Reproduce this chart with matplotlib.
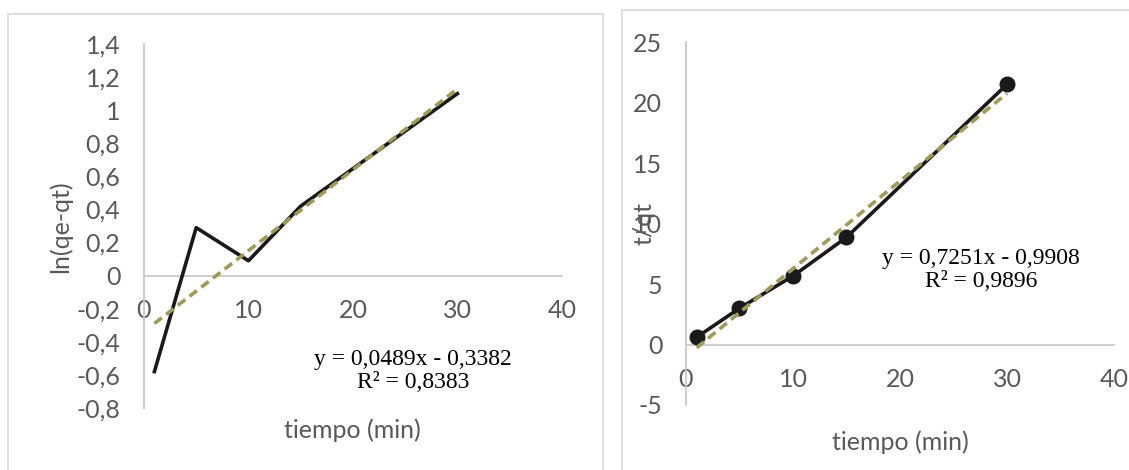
import numpy as np
from matplotlib import pyplot as plt
from matplotlib.patches import Rectangle
from matplotlib.ticker import FuncFormatter, MultipleLocator

# datos
tiempo = [1, 5, 10, 15, 30]
ln_qe_qt = [-0.58, 0.29, 0.09, 0.42, 1.10]
t_qt = [0.6, 3.0, 5.66, 8.86, 21.5]

pend_1, inter_1 = 0.0489, -0.3382
pend_2, inter_2 = 0.7251, -0.9908
ecuacion_1 = "y = 0,0489x - 0,3382\nR² = 0,8383"
ecuacion_2 = "y = 0,7251x - 0,9908\nR² = 0,9896"

GRIS = "#595959"
EJE = "#C9C9C9"
OLIVA = "#A09A5A"
FUENTE = "Lato"
TAM = 18


def coma(v, pos):
    v = round(v, 3)
    if v == 0:
        return "0"
    return "{:g}".format(v).replace(".", ",")


def excel_axes(fig, rect, ylim, ystep, ylabel, ylab_xy, xlab_xy):
    ax = fig.add_axes(rect)
    ax.set_xlim(0, 40)
    ax.set_ylim(*ylim)
    ax.xaxis.set_major_locator(MultipleLocator(10))
    ax.yaxis.set_major_locator(MultipleLocator(ystep))
    ax.xaxis.set_major_formatter(FuncFormatter(coma))
    ax.yaxis.set_major_formatter(FuncFormatter(coma))
    for s in ("top", "right"):
        ax.spines[s].set_visible(False)
    ax.spines["left"].set_position(("data", 0))
    ax.spines["bottom"].set_position(("data", 0))
    for s in ("left", "bottom"):
        ax.spines[s].set_color(EJE)
        ax.spines[s].set_linewidth(1.3)
    ax.tick_params(length=0, labelsize=TAM, labelcolor=GRIS, pad=17)
    for lab in ax.get_xticklabels() + ax.get_yticklabels():
        lab.set_family(FUENTE)
    ax.set_facecolor("none")
    ax.set_ylabel(ylabel, fontsize=TAM, color=GRIS, family=FUENTE)
    ax.yaxis.set_label_coords(*ylab_xy)
    ax.set_xlabel("tiempo (min)", fontsize=TAM, color=GRIS, family=FUENTE)
    ax.xaxis.set_label_coords(*xlab_xy)
    ax.xaxis.label.set_va("center")
    ax.yaxis.label.set_va("center")
    return ax


fig = plt.figure(figsize=(11.29, 4.7), dpi=100)

# bordes de los graficos
fig.patches.append(Rectangle((8 / 1129, -0.02), 595 / 1129, 0.99, transform=fig.transFigure,
                             fill=False, edgecolor="#D9D9D9", linewidth=1.2))
fig.patches.append(Rectangle((622 / 1129, -0.02), 0.5, 0.999, transform=fig.transFigure,
                             fill=False, edgecolor="#D9D9D9", linewidth=1.2))

x = np.array(tiempo)
xt = np.array([x.min(), x.max()])

ax1 = excel_axes(fig, [0.1275, 0.1319, 0.3702, 0.7745], (-0.8, 1.4), 0.2,
                 "ln(qe-qt)", (-0.199, 0.497), (0.4976, -0.060))
ax1.plot(tiempo, ln_qe_qt, color="#1a1a1a", linewidth=2.6, zorder=3)
ax1.plot(xt, pend_1 * xt + inter_1, color=OLIVA, linewidth=2.6, linestyle=(0, (2.6, 1.5)), zorder=4)
ax1.text(0.6435, 0.1016, ecuacion_1, transform=ax1.transAxes, ha="center", va="center",
         multialignment="center", fontsize=17, family="Liberation Serif", linespacing=1.1)

ax2 = excel_axes(fig, [0.6076, 0.1383, 0.3791, 0.7723], (-5, 25), 5,
                 "t/qt", (-0.098, 0.501), (0.5, -0.102))
ax2.plot(tiempo, t_qt, color="#1a1a1a", linewidth=2.6, marker="o", markersize=10.5, zorder=3)
ax2.plot(xt, pend_2 * xt + inter_2, color=OLIVA, linewidth=2.6, linestyle=(0, (2.6, 1.5)), zorder=4)
ax2.text(0.689, 0.372, ecuacion_2, transform=ax2.transAxes, ha="center", va="center",
         multialignment="center", fontsize=17, family="Liberation Serif", linespacing=1.1)

fig.savefig("out.png", dpi=100)
